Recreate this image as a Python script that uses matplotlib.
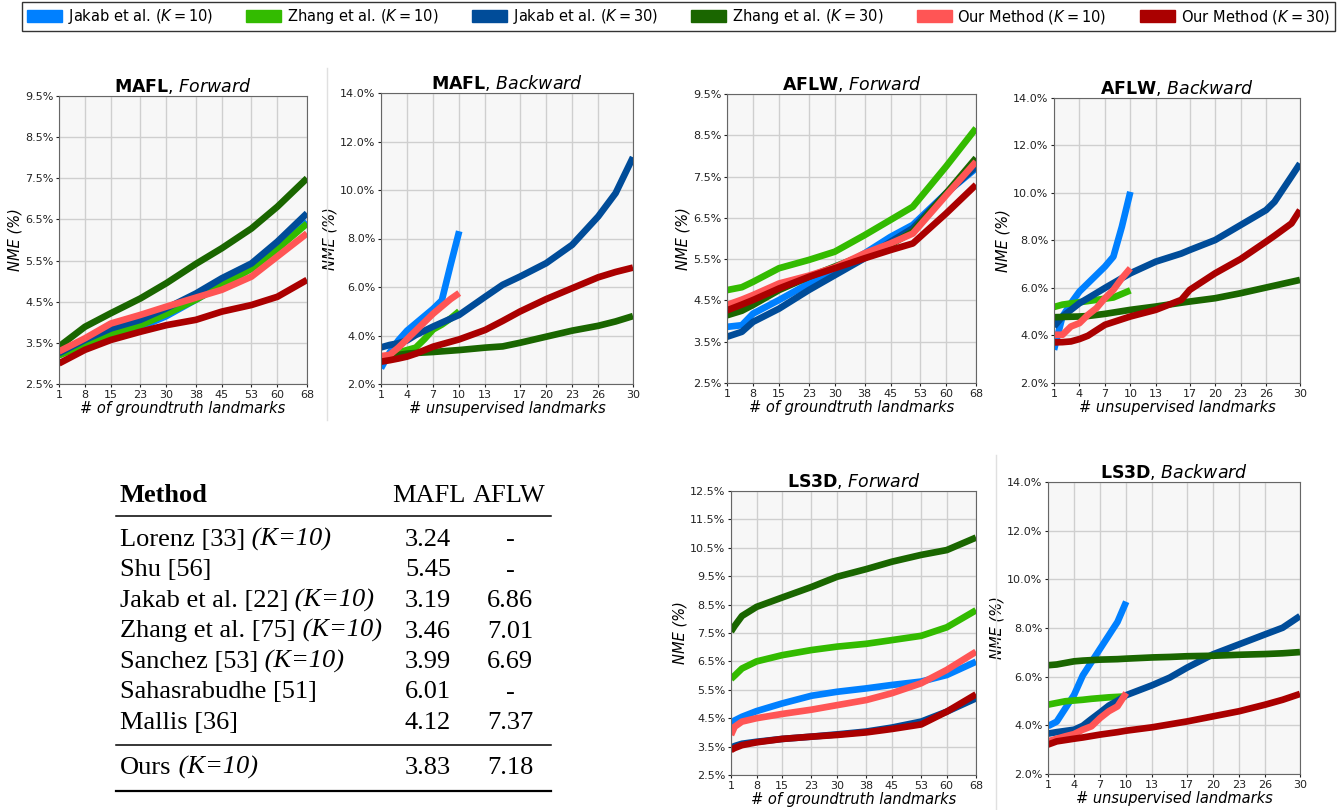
import matplotlib.pyplot as plt
from matplotlib.patches import Patch
from matplotlib.lines import Line2D
import numpy as np

W, H = 1340, 810

# series names / colours (legend order)
labels = [r'Jakab et al. ($K=10$)', r'Zhang et al. ($K=10$)', r'Jakab et al. ($K=30$)',
          r'Zhang et al. ($K=30$)', r'Our Method ($K=10$)', r'Our Method ($K=30$)']
colors = ['#0080ff', '#33bb00', '#004c99', '#1a6600', '#ff5555', '#aa0000']

# ---- MAFL forward
mafl_fwd_x = [1, 8, 15, 23, 30, 38, 45, 53, 60, 68]
mafl_fwd_jakab10 = [3.2, 3.5, 3.72, 3.88, 4.15, 4.55, 4.92, 5.32, 5.8, 6.45]
mafl_fwd_zhang10 = [3.2, 3.45, 3.7, 3.93, 4.2, 4.55, 4.9, 5.3, 5.78, 6.4]
mafl_fwd_jakab30 = [3.25, 3.57, 3.85, 4.06, 4.34, 4.7, 5.07, 5.43, 5.96, 6.65]
mafl_fwd_zhang30 = [3.41, 3.89, 4.22, 4.58, 4.95, 5.42, 5.8, 6.28, 6.81, 7.5]
mafl_fwd_our10 = [3.29, 3.61, 3.97, 4.18, 4.38, 4.6, 4.79, 5.11, 5.6, 6.16]
mafl_fwd_our30 = [3.0, 3.33, 3.57, 3.77, 3.93, 4.06, 4.26, 4.42, 4.62, 5.03]

# ---- MAFL backward
bwd_x10 = [1, 2, 3, 4, 5, 6, 7, 8, 9, 10]
mafl_bwd_jakab10 = [2.65, 3.3, 3.8, 4.2, 4.5, 4.8, 5.1, 5.45, 6.9, 8.3]
mafl_bwd_zhang10 = [3.1, 3.15, 3.3, 3.4, 3.5, 3.85, 4.25, 4.45, 4.7, 5.0]
mafl_bwd_our10 = [3.15, 3.2, 3.5, 3.85, 4.2, 4.55, 4.9, 5.2, 5.5, 5.75]
mafl_bwd_x30 = [1, 2, 3, 4, 5, 7, 10, 13, 15, 17, 20, 23, 26, 28, 30]
mafl_bwd_jakab30 = [3.51, 3.61, 3.68, 3.8, 4.02, 4.37, 4.85, 5.6, 6.09, 6.43, 6.98, 7.74, 8.91, 9.87, 11.35]
mafl_bwd_zhang30 = [3.1, 3.15, 3.2, 3.25, 3.28, 3.32, 3.4, 3.5, 3.55, 3.7, 3.95, 4.2, 4.4, 4.58, 4.8]
mafl_bwd_our30 = [2.92, 2.98, 3.05, 3.13, 3.25, 3.54, 3.84, 4.23, 4.6, 4.99, 5.5, 5.95, 6.4, 6.62, 6.8]

# ---- AFLW forward
aflw_fwd_x = [1, 5, 8, 15, 23, 30, 38, 45, 51, 60, 68]
aflw_fwd_jakab10 = [3.86, 3.9, 4.18, 4.51, 4.91, 5.23, 5.64, 6.04, 6.33, 7.1, 7.7]
aflw_fwd_zhang10 = [4.75, 4.82, 4.95, 5.28, 5.48, 5.68, 6.08, 6.45, 6.77, 7.75, 8.67]
aflw_fwd_jakab30 = [3.62, 3.74, 3.98, 4.3, 4.75, 5.11, 5.52, 5.92, 6.25, 7.1, 7.74]
aflw_fwd_zhang30 = [4.14, 4.25, 4.39, 4.75, 5.07, 5.32, 5.6, 5.85, 6.17, 7.1, 7.95]
aflw_fwd_our10 = [4.39, 4.52, 4.63, 4.91, 5.1, 5.3, 5.64, 5.88, 6.12, 7.05, 7.86]
aflw_fwd_our30 = [4.26, 4.4, 4.51, 4.79, 5.07, 5.28, 5.52, 5.72, 5.88, 6.61, 7.3]

# ---- AFLW backward
aflw_bwd_jakab10 = [3.4, 4.8, 5.36, 5.85, 6.2, 6.55, 6.9, 7.32, 8.58, 10.05]
aflw_bwd_zhang10 = [5.2, 5.3, 5.35, 5.4, 5.45, 5.5, 5.55, 5.6, 5.75, 5.9]
aflw_bwd_our10 = [4.03, 4.03, 4.38, 4.52, 4.87, 5.15, 5.57, 5.92, 6.41, 6.83]
aflw_bwd_x30 = [1, 2, 3, 4, 5, 7, 10, 13, 16, 17, 20, 23, 26, 27, 29, 30]
aflw_bwd_jakab30 = [4.38, 4.8, 5.08, 5.36, 5.57, 6.0, 6.62, 7.11, 7.45, 7.6, 8.02, 8.65, 9.28, 9.63, 10.7, 11.24]
aflw_bwd_zhang30 = [4.77, 4.78, 4.79, 4.8, 4.82, 4.91, 5.08, 5.22, 5.38, 5.43, 5.57, 5.78, 6.02, 6.1, 6.26, 6.34]
aflw_bwd_our30 = [3.71, 3.72, 3.75, 3.85, 3.99, 4.45, 4.8, 5.08, 5.5, 5.92, 6.62, 7.22, 7.95, 8.2, 8.72, 9.28]

# ---- LS3D forward
ls3d_fwd_x = [1, 2, 4, 8, 15, 23, 30, 38, 45, 53, 60, 68]
ls3d_fwd_jakab10 = [4.32, 4.42, 4.55, 4.75, 5.02, 5.29, 5.43, 5.55, 5.67, 5.79, 6.02, 6.49]
ls3d_fwd_zhang10 = [5.88, 6.0, 6.25, 6.5, 6.72, 6.9, 7.02, 7.12, 7.25, 7.4, 7.7, 8.3]
ls3d_fwd_jakab30 = [3.46, 3.52, 3.6, 3.67, 3.77, 3.85, 3.93, 4.03, 4.17, 4.38, 4.73, 5.2]
ls3d_fwd_zhang30 = [7.55, 7.75, 8.1, 8.42, 8.75, 9.12, 9.48, 9.75, 10.01, 10.25, 10.42, 10.86]
ls3d_fwd_our10 = [3.91, 4.2, 4.38, 4.5, 4.65, 4.8, 4.96, 5.14, 5.38, 5.73, 6.2, 6.84]
ls3d_fwd_our30 = [3.38, 3.45, 3.55, 3.65, 3.77, 3.85, 3.91, 4.0, 4.12, 4.28, 4.73, 5.34]

# ---- LS3D backward
ls3d_bwd_jakab10 = [3.97, 4.15, 4.7, 5.25, 6.05, 6.6, 7.15, 7.7, 8.25, 9.08]
ls3d_bwd_zhang10 = [4.85, 4.92, 4.99, 5.02, 5.05, 5.09, 5.12, 5.15, 5.17, 5.19]
ls3d_bwd_our10 = [3.34, 3.45, 3.55, 3.64, 3.82, 3.96, 4.3, 4.58, 4.78, 5.33]
ls3d_bwd_x30 = [1, 2, 4, 5, 6, 7, 8, 9, 10, 13, 15, 17, 20, 23, 26, 28, 30]
ls3d_bwd_jakab30 = [3.66, 3.72, 3.82, 3.98, 4.26, 4.53, 4.81, 5.01, 5.24, 5.65, 5.96, 6.37, 6.92, 7.33, 7.74, 8.01, 8.49]
ls3d_bwd_zhang30 = [6.47, 6.5, 6.63, 6.66, 6.68, 6.7, 6.71, 6.72, 6.74, 6.79, 6.81, 6.84, 6.86, 6.9, 6.93, 6.96, 7.01]
ls3d_bwd_our30 = [3.21, 3.34, 3.45, 3.5, 3.56, 3.62, 3.67, 3.72, 3.78, 3.92, 4.04, 4.16, 4.37, 4.58, 4.85, 5.05, 5.29]

fwd_ticks = [1, 8, 15, 23, 30, 38, 45, 53, 60, 68]
bwd_ticks = [1, 4, 7, 10, 13, 17, 20, 23, 26, 30]

# ---- table
table_methods = ['Lorenz [33]', 'Shu [56]', 'Jakab et al. [22]', 'Zhang et al. [75]',
                 'Sanchez [53]', 'Sahasrabudhe [51]', 'Mallis [36]']
table_suffix = [' (K=10)', '', ' (K=10)', ' (K=10)', ' (K=10)', '', '']
table_mafl = ['3.24', '5.45', '3.19', '3.46', '3.99', '6.01', '4.12']
table_aflw = ['-', '-', '6.86', '7.01', '6.69', '-', '7.37']
ours_row = ['Ours', ' (K=10)', '3.83', '7.18']


def px_axes(fig, l, t, r, b):
    return fig.add_axes([l / W, 1 - b / H, (r - l) / W, (b - t) / H])


def panel(fig, box, name, direction, series, fwd):
    ax = px_axes(fig, *box)
    ax.set_facecolor('#f7f7f7')
    for x, y, c in series:
        ax.plot(x, y, color=c, lw=4.8, solid_capstyle='butt', solid_joinstyle='round')
    if fwd:
        ax.set_xlim(1, 68)
        ax.set_xticks(fwd_ticks)
        ax.set_xlabel('# of groundtruth landmarks', fontstyle='italic', fontsize=10.5, labelpad=1)
    else:
        ax.set_xlim(1, 30)
        ax.set_xticks(bwd_ticks)
        ax.set_xlabel('# unsupervised landmarks', fontstyle='italic', fontsize=10.5, labelpad=1)
    ax.set_ylabel('NME (%)', fontstyle='italic', fontsize=10.5, labelpad=2)
    ax.yaxis.set_major_formatter(plt.FuncFormatter(lambda v, p: '%.1f%%' % v))
    ax.tick_params(labelsize=8, length=2.5, pad=1.5, colors='#222222')
    ax.grid(True, color='#cfcfcf', lw=1)
    ax.set_axisbelow(True)
    for s in ax.spines.values():
        s.set_color('#666666')
    ax.set_title(r'$\bf{%s}$, $\it{%s}$' % (name, direction), fontsize=12.5, pad=3)
    return ax


fig = plt.figure(figsize=(W / 100, H / 100), dpi=100)

c = colors
ax = panel(fig, (59, 96, 307, 384), 'MAFL', 'Forward', [
    (mafl_fwd_x, mafl_fwd_jakab10, c[0]), (mafl_fwd_x, mafl_fwd_zhang10, c[1]),
    (mafl_fwd_x, mafl_fwd_jakab30, c[2]), (mafl_fwd_x, mafl_fwd_zhang30, c[3]),
    (mafl_fwd_x, mafl_fwd_our10, c[4]), (mafl_fwd_x, mafl_fwd_our30, c[5])], True)
ax.set_ylim(2.5, 9.5)
ax.set_yticks(np.arange(2.5, 9.6, 1))

ax = panel(fig, (381, 93, 633, 384), 'MAFL', 'Backward', [
    (bwd_x10, mafl_bwd_jakab10, c[0]), (bwd_x10, mafl_bwd_zhang10, c[1]),
    (mafl_bwd_x30, mafl_bwd_jakab30, c[2]), (mafl_bwd_x30, mafl_bwd_zhang30, c[3]),
    (bwd_x10, mafl_bwd_our10, c[4]), (mafl_bwd_x30, mafl_bwd_our30, c[5])], False)
ax.set_ylim(2, 14)
ax.set_yticks(np.arange(2, 14.1, 2))

ax = panel(fig, (727, 94, 976, 383), 'AFLW', 'Forward', [
    (aflw_fwd_x, aflw_fwd_jakab10, c[0]), (aflw_fwd_x, aflw_fwd_zhang10, c[1]),
    (aflw_fwd_x, aflw_fwd_jakab30, c[2]), (aflw_fwd_x, aflw_fwd_zhang30, c[3]),
    (aflw_fwd_x, aflw_fwd_our10, c[4]), (aflw_fwd_x, aflw_fwd_our30, c[5])], True)
ax.set_ylim(2.5, 9.5)
ax.set_yticks(np.arange(2.5, 9.6, 1))

ax = panel(fig, (1054, 98, 1300, 383), 'AFLW', 'Backward', [
    (bwd_x10, aflw_bwd_jakab10, c[0]), (bwd_x10, aflw_bwd_zhang10, c[1]),
    (aflw_bwd_x30, aflw_bwd_jakab30, c[2]), (aflw_bwd_x30, aflw_bwd_zhang30, c[3]),
    (bwd_x10, aflw_bwd_our10, c[4]), (aflw_bwd_x30, aflw_bwd_our30, c[5])], False)
ax.set_ylim(2, 14)
ax.set_yticks(np.arange(2, 14.1, 2))

ax = panel(fig, (731, 491, 976, 775), 'LS3D', 'Forward', [
    (ls3d_fwd_x, ls3d_fwd_jakab10, c[0]), (ls3d_fwd_x, ls3d_fwd_zhang10, c[1]),
    (ls3d_fwd_x, ls3d_fwd_jakab30, c[2]), (ls3d_fwd_x, ls3d_fwd_zhang30, c[3]),
    (ls3d_fwd_x, ls3d_fwd_our10, c[4]), (ls3d_fwd_x, ls3d_fwd_our30, c[5])], True)
ax.set_ylim(2.5, 12.5)
ax.set_yticks(np.arange(2.5, 12.6, 1))

ax = panel(fig, (1048, 482, 1300, 774), 'LS3D', 'Backward', [
    (bwd_x10, ls3d_bwd_jakab10, c[0]), (bwd_x10, ls3d_bwd_zhang10, c[1]),
    (ls3d_bwd_x30, ls3d_bwd_jakab30, c[2]), (ls3d_bwd_x30, ls3d_bwd_zhang30, c[3]),
    (bwd_x10, ls3d_bwd_our10, c[4]), (ls3d_bwd_x30, ls3d_bwd_our30, c[5])], False)
ax.set_ylim(2, 14)
ax.set_yticks(np.arange(2, 14.1, 2))

# thin separators between sub-figures
fig.add_artist(Line2D([327 / W] * 2, [1 - 68 / H, 1 - 420 / H], color='#e0e0e0', lw=1))
fig.add_artist(Line2D([996 / W] * 2, [1 - 455 / H, 0], color='#e0e0e0', lw=1))

# legend
handles = [Patch(facecolor=col, edgecolor=col) for col in colors]
fig.legend(handles, labels, loc='upper left', ncol=6, mode='expand',
           bbox_to_anchor=(22 / W, 1 - 2 / H, (1335 - 22) / W, 0.0), borderaxespad=0,
           fontsize=10.5, handlelength=2.4, handleheight=0.8, handletextpad=0.4,
           borderpad=0.35, columnspacing=1.0, fancybox=False, edgecolor='#333333',
           framealpha=1)

# table drawn as text
serif = 'Liberation Serif'
fs = 19


def ftext(x, y, s, **kw):
    kw.setdefault('family', serif)
    kw.setdefault('fontsize', fs)
    return fig.text(x / W, 1 - y / H, s, va='baseline', **kw)


def row(y, method, suffix, m, a):
    t = ftext(120, y, method)
    if suffix:
        ax_dummy.annotate(suffix, xy=(1, 0), xycoords=t, ha='left', va='bottom',
                          family=serif, fontsize=fs, fontstyle='italic', annotation_clip=False)
    ftext(428, y, m, ha='center')
    ftext(510, y, a, ha='center')


ax_dummy = fig.add_axes([0, 0, 1, 1])
ax_dummy.set_axis_off()

ftext(120, 502, 'Method', fontweight='bold')
ftext(429, 502, 'MAFL', ha='center')
ftext(509, 502, 'AFLW', ha='center')
fig.add_artist(Line2D([116 / W, 551 / W], [1 - 516 / H] * 2, color='black', lw=1.1))
for i in range(len(table_methods)):
    row(546 + i * 30.5, table_methods[i], table_suffix[i], table_mafl[i], table_aflw[i])
fig.add_artist(Line2D([116 / W, 551 / W], [1 - 745 / H] * 2, color='black', lw=1.1))
row(774, *ours_row)
fig.add_artist(Line2D([116 / W, 551 / W], [1 - 791 / H] * 2, color='black', lw=1.6))

fig.savefig('out.png', dpi=100, facecolor='white')
